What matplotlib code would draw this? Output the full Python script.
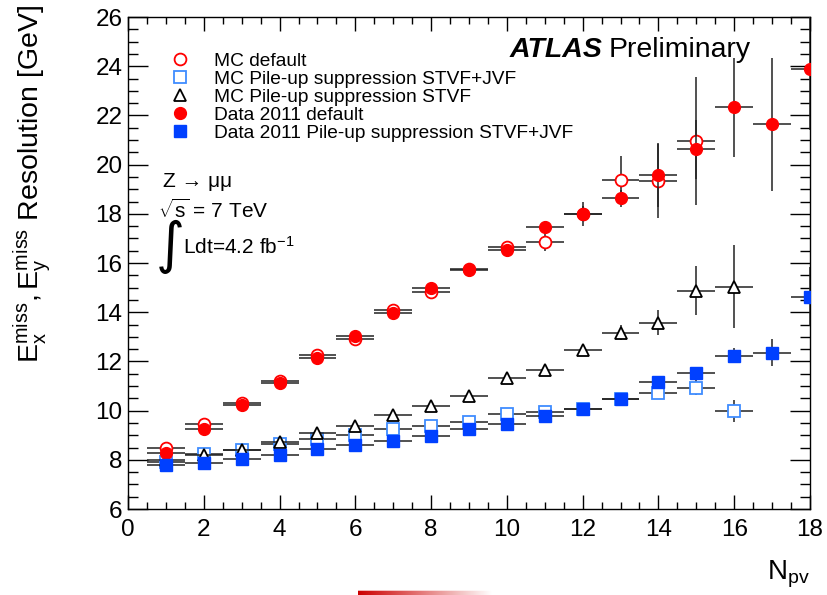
import numpy as np
import matplotlib
matplotlib.use("Agg")
import matplotlib.pyplot as plt
from matplotlib.lines import Line2D
from matplotlib.ticker import MultipleLocator
from matplotlib.transforms import offset_copy

plt.rcParams['font.family'] = ['Liberation Sans', 'DejaVu Sans']
plt.rcParams['mathtext.fontset'] = 'custom'
plt.rcParams['mathtext.rm'] = 'Liberation Sans'
plt.rcParams['mathtext.it'] = 'Liberation Sans:italic'
plt.rcParams['mathtext.bf'] = 'Liberation Sans:bold'

# valores (N_pv, resolucion en GeV, error)
npv_mc = np.arange(1, 17)
npv_mc_def = np.arange(1, 16)
npv_data = np.arange(1, 19)

mc_default = [8.48, 9.47, 10.3, 11.2, 12.27, 12.93, 14.08, 14.82, 15.75, 16.65,
              16.84, 18.0, 19.36, 19.32, 20.95]
mc_default_err = [0.05, 0.06, 0.07, 0.08, 0.1, 0.12, 0.15, 0.15, 0.2, 0.25,
                  0.35, 0.3, 1.0, 1.5, 2.6]

mc_stvf_jvf = [7.9, 8.22, 8.38, 8.65, 8.85, 9.0, 9.26, 9.38, 9.54, 9.87,
               9.95, 10.07, 10.48, 10.72, 10.93, 9.99]
mc_stvf_jvf_err = [0.03, 0.03, 0.03, 0.04, 0.04, 0.05, 0.05, 0.06, 0.07, 0.08,
                   0.1, 0.1, 0.15, 0.2, 0.3, 0.45]

mc_stvf = [7.98, 8.2, 8.4, 8.73, 9.1, 9.38, 9.83, 10.2, 10.6, 11.34,
           11.66, 12.48, 13.17, 13.58, 14.88, 15.04]
mc_stvf_err = [0.03, 0.03, 0.04, 0.04, 0.05, 0.06, 0.06, 0.07, 0.08, 0.1,
               0.12, 0.15, 0.3, 0.5, 0.98, 1.7]

data_default = [8.28, 9.26, 10.22, 11.12, 12.15, 13.05, 13.98, 15.0, 15.73, 16.52,
                17.47, 18.0, 18.63, 19.57, 20.62, 22.33, 21.64, 23.9]
data_default_err = [0.03, 0.04, 0.05, 0.06, 0.08, 0.1, 0.12, 0.15, 0.18, 0.2,
                    0.25, 0.5, 0.35, 1.3, 1.2, 2.0, 2.7, 2.5]

data_stvf_jvf = [7.79, 7.87, 8.04, 8.2, 8.44, 8.6, 8.77, 8.97, 9.26, 9.46,
                 9.8, 10.07, 10.48, 11.17, 11.54, 12.23, 12.35, 14.63]
data_stvf_jvf_err = [0.02, 0.02, 0.02, 0.03, 0.03, 0.03, 0.04, 0.04, 0.05, 0.05,
                     0.06, 0.07, 0.08, 0.1, 0.15, 0.3, 0.55, 1.2]

labels = ["MC default",
          "MC Pile-up suppression STVF+JVF",
          "MC Pile-up suppression STVF",
          "Data 2011 default",
          "Data 2011 Pile-up suppression STVF+JVF"]

red = "#ff0000"
blue = "#0040ff"
light_blue = "#3f8cff"

fig = plt.figure(figsize=(8.27, 5.95), dpi=100)
ax = fig.add_axes([0.1548, 0.1445, 0.8246, 0.8269])

ms = 8.5
series = [
    (npv_mc_def, mc_default, mc_default_err, dict(marker='o', mfc='white', mec=red, mew=1.3)),
    (npv_mc, mc_stvf_jvf, mc_stvf_jvf_err, dict(marker='s', mfc='white', mec=light_blue, mew=1.3)),
    (npv_mc, mc_stvf, mc_stvf_err, dict(marker='^', mfc='white', mec='black', mew=1.3)),
    (npv_data, data_default, data_default_err, dict(marker='o', mfc=red, mec=red, mew=1.0)),
    (npv_data, data_stvf_jvf, data_stvf_jvf_err, dict(marker='s', mfc=blue, mec=blue, mew=1.0)),
]

handles = []
for i, (x, y, e, st) in enumerate(series):
    ax.errorbar(x, y, xerr=0.5, yerr=e, fmt='none', ecolor='#222222',
                elinewidth=1.1, capsize=0, zorder=2 + 2 * i)
    ax.plot(x, y, linestyle='none', markersize=ms, zorder=3 + 2 * i, **st)
    handles.append(Line2D([], [], linestyle='none', markersize=ms, **st))

ax.set_xlim(0, 18)
ax.set_ylim(6, 26)
ax.xaxis.set_major_locator(MultipleLocator(2))
ax.xaxis.set_minor_locator(MultipleLocator(0.5))
ax.yaxis.set_major_locator(MultipleLocator(2))
ax.yaxis.set_minor_locator(MultipleLocator(0.5))
ax.tick_params(which='both', direction='in', top=True, right=True, width=1.0)
ax.tick_params(axis='x', which='major', length=10, labelsize=17.5, pad=7)
ax.tick_params(axis='x', which='minor', length=5)
ax.tick_params(axis='y', which='major', length=14.5, labelsize=17.5, pad=4)
ax.tick_params(axis='y', which='minor', length=7)
for s in ax.spines.values():
    s.set_linewidth(1.0)

ax.set_xlabel(r"$\mathrm{N_{pv}}$", fontsize=20, loc='right')
ax.xaxis.set_label_coords(1.0, -0.1)
ax.xaxis.label.set_verticalalignment('top')
ax.set_ylabel(r"$\mathrm{E_x^{miss}, E_y^{miss}}$ Resolution [GeV]", fontsize=20.5, loc='top')
ax.yaxis.set_label_coords(-0.11, 1.025)

ax.legend(handles, labels, loc='upper left', bbox_to_anchor=(0.063, 0.928),
          frameon=False, fontsize=13.8, labelspacing=0.03, handlelength=0.95,
          handletextpad=1.3, borderpad=0, borderaxespad=0)

t = ax.text(0.56, 0.933, "ATLAS", transform=ax.transAxes, fontsize=20.5,
            fontweight='bold', fontstyle='italic', va='center', ha='left')
fig.canvas.draw()
bb = t.get_window_extent()
x_end = ax.transAxes.inverted().transform((bb.x1, bb.y0))[0]
ax.text(x_end, 0.933, "Preliminary", fontsize=20.5, va='center', ha='left',
        transform=offset_copy(ax.transAxes, fig=fig, x=6, y=0, units='dots'))

ax.text(0.052, 0.665, "Z → μμ", transform=ax.transAxes, fontsize=15,
        va='center', ha='left')
ax.text(0.044, 0.607, r"$\sqrt{\mathrm{s}}$ = 7 TeV", transform=ax.transAxes,
        fontsize=15, va='center', ha='left')
ax.text(0.040, 0.533, "∫", transform=ax.transAxes, fontsize=40,
        va='center', ha='left', family=['DejaVu Sans'])
ax.text(0.080, 0.533, r"Ldt=4.2 fb$^{\mathrm{-1}}$", transform=ax.transAxes,
        fontsize=15, va='center', ha='left')

# linea roja residual abajo
bar = fig.add_axes([358 / 827, 0, 135 / 827, 5 / 595])
w, h = 135, 5
img = np.ones((h, w, 4))
img[..., 0] = 0.8
img[..., 1] = 0.0
img[..., 2] = 0.0
fade = np.linspace(1, 0, w)
for r in range(h):
    img[r, :, 3] = fade * (1 if r >= 1 else 0.3)
bar.imshow(img, aspect='auto', interpolation='bilinear')
bar.axis('off')

fig.savefig("out.png", dpi=100)
